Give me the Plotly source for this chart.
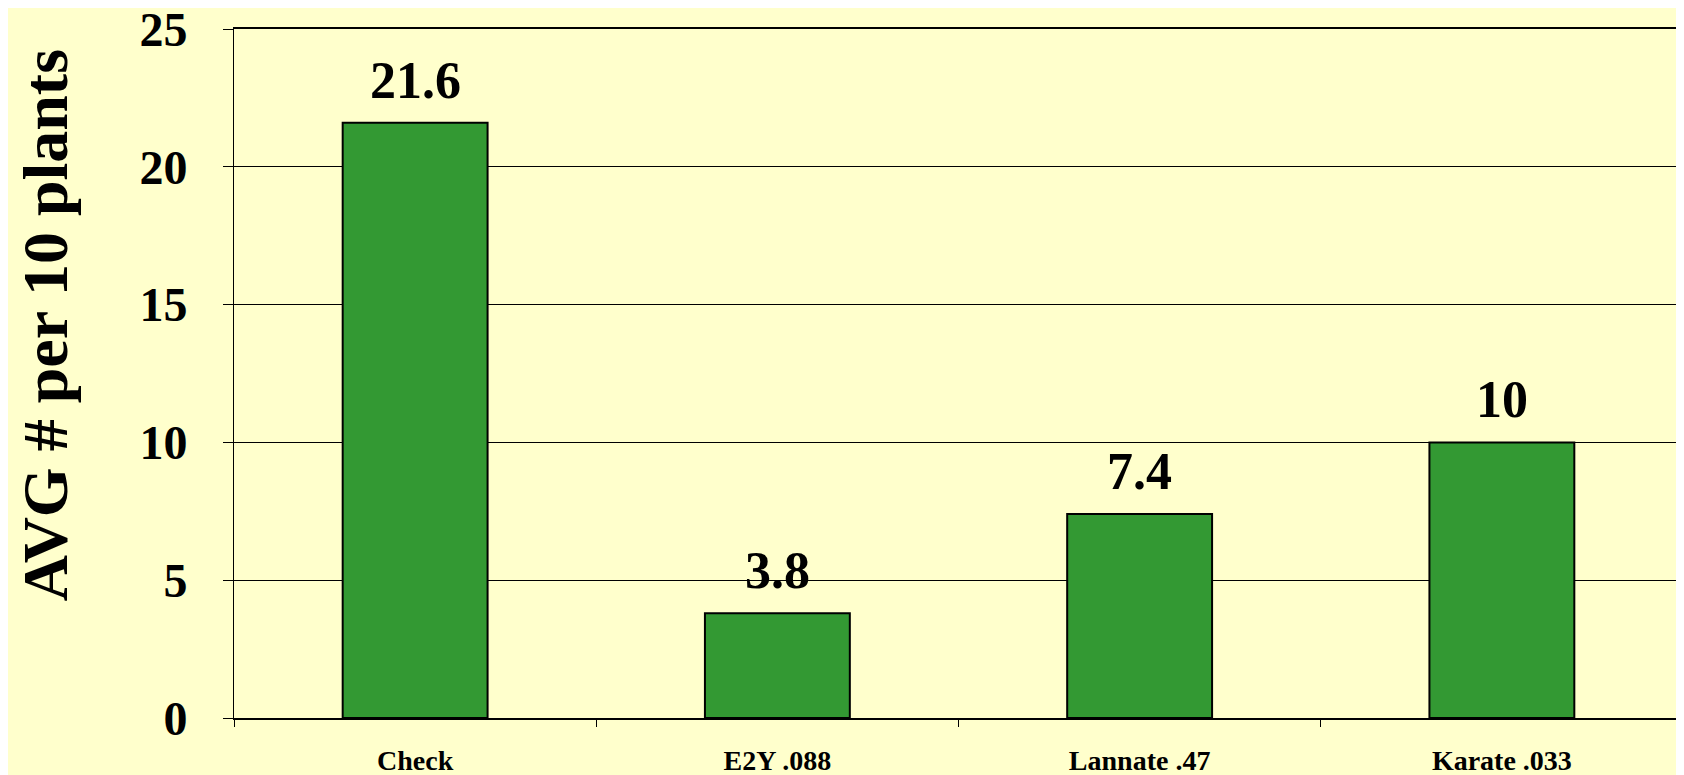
import plotly.graph_objects as go

categories = ["Check", "E2Y .088", "Lannate .47", "Karate .033"]
values = [21.6, 3.8, 7.4, 10]
value_labels = ["21.6", "3.8", "7.4", "10"]
y_ticks = [0, 5, 10, 15, 20, 25]
y_title = "AVG # per 10 plants"

FONT = "Liberation Serif, Times New Roman, serif"
BG = "#FFFFCC"

fig = go.Figure(
    go.Bar(
        x=categories,
        y=values,
        marker=dict(color="#339933", line=dict(color="black", width=2)),
        hoverinfo="x+y",
    )
)

# value labels above bars, anchored to the data
for c, v, lab in zip(categories, values, value_labels):
    fig.add_annotation(
        x=c, y=v, xref="x", yref="y",
        text="<b>" + lab + "</b>",
        showarrow=False,
        yanchor="bottom",
        yshift=12,
        font=dict(family=FONT, size=52, color="black"),
    )

# y axis title
fig.add_annotation(
    x=-0.1304, y=0.57, xref="paper", yref="paper",
    text="<b>" + y_title + "</b>",
    textangle=-90,
    showarrow=False,
    xanchor="center", yanchor="middle",
    font=dict(family=FONT, size=64, color="black"),
)

fig.update_layout(
    width=1684,
    height=775,
    paper_bgcolor=BG,
    plot_bgcolor=BG,
    margin=dict(l=226, r=9, t=21, b=65),
    bargap=0.6,
    showlegend=False,
    font=dict(family=FONT, color="black"),
)

fig.update_xaxes(
    automargin=False,
    showline=True,
    linecolor="black",
    linewidth=2,
    mirror=True,
    ticks="outside",
    tickson="boundaries",
    ticklen=7,
    tickcolor="black",
    tickfont=dict(family=FONT, size=28, color="black"),
    ticklabelstandoff=16,
    ticklabeloverflow="allow",
    showgrid=False,
    tickvals=categories,
    ticktext=["<b>" + c + "</b>" for c in categories],
)

fig.update_yaxes(
    automargin=False,
    range=[0, 25],
    tickvals=y_ticks,
    ticktext=["<b>%d</b>" % t for t in y_ticks],
    showline=True,
    linecolor="black",
    linewidth=1,
    ticks="outside",
    ticklen=10,
    tickcolor="black",
    ticklabelstandoff=26,
    ticklabeloverflow="allow",
    tickfont=dict(family=FONT, size=48, color="black"),
    showgrid=True,
    gridcolor="black",
    gridwidth=1,
    zeroline=False,
)

fig.write_html("out.html")
